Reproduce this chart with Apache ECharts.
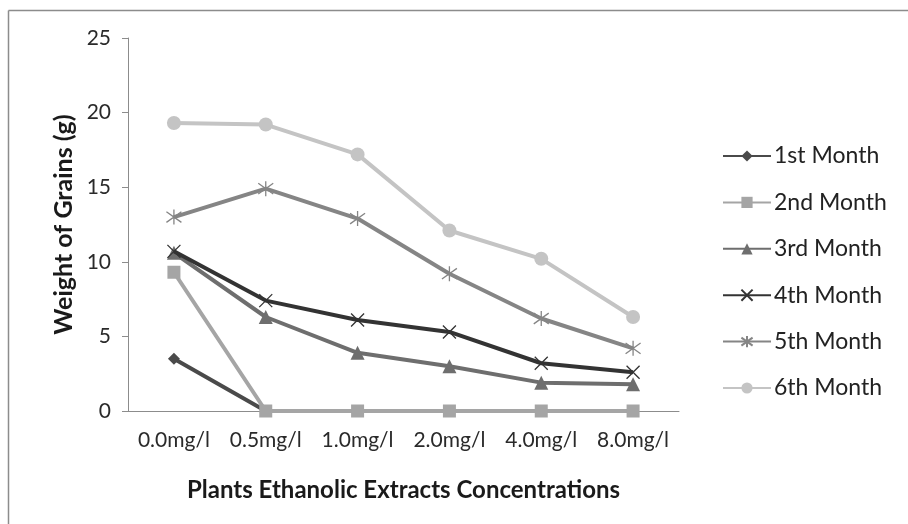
<!DOCTYPE html>
<html><head><meta charset="utf-8">
<script src="https://cdn.jsdelivr.net/npm/echarts@6/dist/echarts.min.js"></script>
<style>html,body{margin:0;padding:0;background:#fff}#c{width:908px;height:524px}</style>
</head><body><div id="c"></div>
<script>
const categories = ['0.0mg/l','0.5mg/l','1.0mg/l','2.0mg/l','4.0mg/l','8.0mg/l'];
const month1 = [3.5, 0, 0, 0, 0, 0];
const month2 = [9.3, 0, 0, 0, 0, 0];
const month3 = [10.6, 6.3, 3.9, 3.0, 1.9, 1.8];
const month4 = [10.7, 7.4, 6.1, 5.3, 3.2, 2.6];
const month5 = [13.0, 14.9, 12.9, 9.2, 6.2, 4.2];
const month6 = [19.3, 19.2, 17.2, 12.1, 10.2, 6.3];
const seriesNames = ['1st Month','2nd Month','3rd Month','4th Month','5th Month','6th Month'];
const yTicks = [0, 5, 10, 15, 20, 25];

const font = 'Lato, "Open Sans", sans-serif';
const colors = ['#4a4a4a','#a5a5a5','#6e6e6e','#333333','#858585','#c4c4c4'];
const symbols = ['diamond','rect','triangle',
  'path://M0,0L10,10M10,0L0,10',
  'path://M0,0L10,10M10,0L0,10M5,-2L5,12',
  'circle'];
const sizes = [12, 13, 14, 13, 15, 14];
const data = [month1, month2, month3, month4, month5, month6];

const chart = echarts.init(document.getElementById('c'));
chart.setOption({
  animation: false,
  backgroundColor: '#fff',
  graphic: [
    {type:'line', shape:{x1:8.5,y1:10.5,x2:908,y2:10.5}, style:{stroke:'#8c8c8c',lineWidth:1.5}},
    {type:'line', shape:{x1:8.5,y1:10.5,x2:8.5,y2:524}, style:{stroke:'#8c8c8c',lineWidth:1.5}}
  ],
  grid: {left: 128, right: 229, top: 38, bottom: 113},
  legend: {
    orient: 'vertical', left: 717, top: 139.5, itemGap: 23.4, itemWidth: 48, itemHeight: 14,
    textStyle: {fontFamily: font, fontSize: 23, color: '#222', padding:[0,0,0,-2]},
    data: seriesNames
  },
  xAxis: {
    type: 'category', data: categories, boundaryGap: true,
    axisLine: {lineStyle: {color: '#8c8c8c', width: 1}},
    axisTick: {show: false},
    axisLabel: {fontFamily: font, fontSize: 21, color: '#2a2a2a', margin: 19, interval: 0},
    name: 'Plants Ethanolic Extracts Concentrations', nameLocation: 'middle', nameGap: 67,
    nameMoveOverlap: false,
    nameTextStyle: {fontFamily: font, fontSize: 24, fontWeight: 'bold', color: '#1a1a1a'}
  },
  yAxis: {
    type: 'value', min: 0, max: 25, interval: 5,
    axisLine: {show: true, lineStyle: {color: '#8c8c8c', width: 1}},
    axisTick: {show: true, length: 6, lineStyle: {color: '#8c8c8c'}},
    splitLine: {show: false},
    axisLabel: {fontFamily: font, fontSize: 21, color: '#2a2a2a', margin: 17,
      formatter: v => yTicks.includes(v) ? String(v) : ''},
    name: 'Weight of Grains (g)', nameLocation: 'middle', nameGap: 52, nameRotate: 90,
    nameMoveOverlap: false,
    nameTextStyle: {fontFamily: font, fontSize: 25, fontWeight: 'bold', color: '#1a1a1a'}
  },
  series: seriesNames.map((n, i) => ({
    name: n, type: 'line', data: data[i],
    symbol: symbols[i], symbolSize: sizes[i], showSymbol: true,
    lineStyle: {color: colors[i], width: 4},
    itemStyle: {color: colors[i], borderColor: colors[i], borderWidth: (i===3||i===4)?1.3:0},
    z: 2 + i
  }))
});
</script></body></html>
